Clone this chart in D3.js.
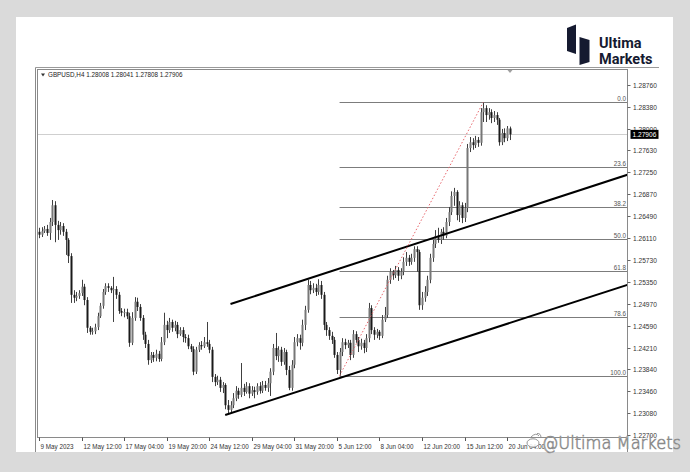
<!DOCTYPE html>
<html><head><meta charset="utf-8">
<script src="https://cdn.jsdelivr.net/npm/d3@7"></script>
<style>
html,body{margin:0;padding:0;background:#dadada;}
svg{display:block;}
</style></head><body>
<svg id="c" width="690" height="472"></svg>
<script>
// ---------------- data ----------------
const symbolInfo = "GBPUSD,H4";
const lastOHLC = [1.28008, 1.28041, 1.27808, 1.27906];
const currentPrice = 1.27906;

// H4 candles, 9 May 2023 -> 20 Jun 2023  [open, high, low, close]
const opens = [1.2622,1.2617,1.2623,1.2627,1.2620,1.2639,1.2668,1.2634,1.2625,1.2632,
1.2622,1.2608,1.2580,1.2513,1.2508,1.2511,1.2516,1.2527,1.2504,1.2456,
1.2449,1.2450,1.2457,1.2476,1.2494,1.2518,1.2528,1.2525,1.2521,1.2523,
1.2513,1.2485,1.2482,1.2483,1.2476,1.2430,1.2473,1.2501,1.2492,1.2473,
1.2444,1.2428,1.2400,1.2409,1.2404,1.2411,1.2402,1.2431,1.2461,1.2452,
1.2466,1.2456,1.2461,1.2445,1.2452,1.2440,1.2438,1.2424,1.2419,1.2380,
1.2418,1.2426,1.2424,1.2431,1.2428,1.2418,1.2371,1.2362,1.2366,1.2352,
1.2357,1.2322,1.2314,1.2322,1.2334,1.2347,1.2340,1.2352,1.2345,1.2355,
1.2342,1.2348,1.2345,1.2355,1.2347,1.2357,1.2352,1.2360,1.2380,1.2421,
1.2407,1.2418,1.2397,1.2414,1.2383,1.2352,1.2392,1.2431,1.2438,1.2430,
1.2461,1.2487,1.2530,1.2521,1.2525,1.2518,1.2530,1.2513,1.2461,1.2452,
1.2442,1.2435,1.2409,1.2383,1.2414,1.2431,1.2426,1.2430,1.2409,1.2445,
1.2435,1.2424,1.2430,1.2421,1.2438,1.2490,1.2452,1.2444,1.2449,1.2442,
1.2470,1.2478,1.2539,1.2553,1.2547,1.2556,1.2546,1.2553,1.2570,1.2577,
1.2570,1.2577,1.2592,1.2587,1.2495,1.2508,1.2518,1.2539,1.2577,1.2601,
1.2615,1.2608,1.2622,1.2615,1.2639,1.2656,1.2684,1.2691,1.2651,1.2668,
1.2646,1.2663,1.2767,1.2777,1.2772,1.2781,1.2776,1.2829,1.2836,1.2824,
1.2829,1.2819,1.2824,1.2816,1.2777,1.2793,1.2784,1.28008];
const highs = [1.2629,1.2630,1.2632,1.2634,1.2646,1.2677,1.2675,1.2641,1.2639,1.2637,
1.2627,1.2611,1.2585,1.2521,1.2518,1.2521,1.2539,1.2532,1.2509,1.2459,
1.2456,1.2463,1.2482,1.2499,1.2523,1.2533,1.2533,1.2528,1.2544,1.2528,
1.2518,1.2490,1.2489,1.2489,1.2482,1.2483,1.2509,1.2508,1.2497,1.2478,
1.2449,1.2435,1.2414,1.2414,1.2418,1.2416,1.2440,1.2482,1.2468,1.2473,
1.2470,1.2468,1.2466,1.2457,1.2457,1.2445,1.2444,1.2428,1.2424,1.2423,
1.2431,1.2433,1.2440,1.2466,1.2435,1.2423,1.2376,1.2373,1.2371,1.2362,
1.2360,1.2331,1.2329,1.2343,1.2355,1.2352,1.2395,1.2359,1.2362,1.2360,
1.2355,1.2354,1.2360,1.2362,1.2364,1.2364,1.2369,1.2386,1.2428,1.2447,
1.2424,1.2423,1.2421,1.2418,1.2390,1.2400,1.2440,1.2445,1.2444,1.2470,
1.2494,1.2539,1.2537,1.2533,1.2532,1.2540,1.2537,1.2518,1.2466,1.2457,
1.2449,1.2440,1.2414,1.2421,1.2438,1.2437,1.2435,1.2435,1.2452,1.2450,
1.2440,1.2437,1.2435,1.2445,1.2499,1.2495,1.2457,1.2454,1.2452,1.2478,
1.2492,1.2546,1.2559,1.2556,1.2563,1.2561,1.2559,1.2578,1.2587,1.2582,
1.2584,1.2597,1.2597,1.2591,1.2518,1.2528,1.2546,1.2584,1.2608,1.2625,
1.2629,1.2627,1.2630,1.2646,1.2665,1.2692,1.2698,1.2694,1.2675,1.2673,
1.2672,1.2774,1.2786,1.2784,1.2788,1.2786,1.2836,1.2846,1.2841,1.2836,
1.2834,1.2831,1.2829,1.2819,1.2800,1.2801,1.2805,1.28041];
const lows = [1.2611,1.2613,1.2620,1.2615,1.2608,1.2632,1.2604,1.2608,1.2617,1.2615,
1.2582,1.2568,1.2499,1.2499,1.2502,1.2506,1.2511,1.2495,1.2447,1.2444,
1.2444,1.2445,1.2452,1.2473,1.2489,1.2513,1.2518,1.2516,1.2466,1.2506,
1.2480,1.2476,1.2474,1.2471,1.2423,1.2426,1.2468,1.2485,1.2468,1.2435,
1.2421,1.2392,1.2395,1.2397,1.2398,1.2397,1.2398,1.2426,1.2438,1.2447,
1.2449,1.2450,1.2438,1.2442,1.2431,1.2430,1.2419,1.2414,1.2374,1.2376,
1.2414,1.2418,1.2421,1.2423,1.2412,1.2362,1.2355,1.2357,1.2345,1.2343,
1.2315,1.2307,1.2309,1.2317,1.2329,1.2333,1.2336,1.2338,1.2342,1.2334,
1.2338,1.2334,1.2340,1.2342,1.2343,1.2347,1.2345,1.2338,1.2374,1.2400,
1.2397,1.2390,1.2392,1.2374,1.2348,1.2347,1.2386,1.2424,1.2418,1.2424,
1.2452,1.2482,1.2514,1.2516,1.2511,1.2513,1.2506,1.2452,1.2442,1.2435,
1.2428,1.2404,1.2376,1.2373,1.2407,1.2419,1.2421,1.2400,1.2404,1.2430,
1.2414,1.2418,1.2412,1.2414,1.2431,1.2445,1.2435,1.2438,1.2435,1.2438,
1.2466,1.2473,1.2532,1.2539,1.2542,1.2537,1.2540,1.2547,1.2563,1.2563,
1.2565,1.2570,1.2553,1.2487,1.2487,1.2501,1.2511,1.2533,1.2570,1.2594,
1.2603,1.2601,1.2608,1.2611,1.2632,1.2651,1.2667,1.2642,1.2639,1.2637,
1.2639,1.2656,1.2760,1.2764,1.2767,1.2769,1.2771,1.2812,1.2812,1.2816,
1.2810,1.2812,1.2807,1.2771,1.2772,1.2777,1.2779,1.27808];
const closes = [1.2617,1.2623,1.2627,1.2620,1.2639,1.2668,1.2634,1.2625,1.2632,1.2622,
1.2608,1.2580,1.2513,1.2508,1.2511,1.2516,1.2527,1.2504,1.2456,1.2449,
1.2450,1.2457,1.2476,1.2494,1.2518,1.2528,1.2525,1.2521,1.2523,1.2513,
1.2485,1.2482,1.2483,1.2476,1.2430,1.2473,1.2501,1.2492,1.2473,1.2444,
1.2428,1.2400,1.2409,1.2404,1.2411,1.2402,1.2431,1.2461,1.2452,1.2466,
1.2456,1.2461,1.2445,1.2452,1.2440,1.2438,1.2424,1.2419,1.2380,1.2418,
1.2426,1.2424,1.2431,1.2428,1.2418,1.2371,1.2362,1.2366,1.2352,1.2357,
1.2322,1.2314,1.2322,1.2334,1.2347,1.2340,1.2352,1.2345,1.2355,1.2342,
1.2348,1.2345,1.2355,1.2347,1.2357,1.2352,1.2360,1.2380,1.2421,1.2407,
1.2418,1.2397,1.2414,1.2383,1.2352,1.2392,1.2431,1.2438,1.2430,1.2461,
1.2487,1.2530,1.2521,1.2525,1.2518,1.2530,1.2513,1.2461,1.2452,1.2442,
1.2435,1.2409,1.2383,1.2414,1.2431,1.2426,1.2430,1.2409,1.2445,1.2435,
1.2424,1.2430,1.2421,1.2438,1.2490,1.2452,1.2444,1.2449,1.2442,1.2470,
1.2478,1.2539,1.2553,1.2547,1.2556,1.2546,1.2553,1.2570,1.2577,1.2570,
1.2577,1.2592,1.2587,1.2495,1.2508,1.2518,1.2539,1.2577,1.2601,1.2615,
1.2608,1.2622,1.2615,1.2639,1.2656,1.2684,1.2691,1.2651,1.2668,1.2646,
1.2663,1.2767,1.2777,1.2772,1.2781,1.2776,1.2829,1.2836,1.2824,1.2829,
1.2819,1.2824,1.2816,1.2777,1.2793,1.2784,1.28008,1.27906];

const timeLabels = ["9 May 2023","12 May 12:00","17 May 04:00","19 May 20:00","24 May 12:00",
  "29 May 04:00","31 May 20:00","5 Jun 12:00","8 Jun 04:00","12 Jun 20:00","15 Jun 12:00","20 Jun 04:00"];
const timeLabelBars = [0,16,32,48,64,80,96,112,128,144,160,176];
const priceTicks = ["1.28760","1.28380","1.28000","1.27630","1.27250","1.26870","1.26490","1.26110",
  "1.25730","1.25350","1.24970","1.24590","1.24210","1.23840","1.23460","1.23080","1.22700"];

const fibLevels = [0, 23.6, 38.2, 50, 61.8, 78.6, 100];
const fibLabels = ["0.0","23.6","38.2","50.0","61.8","78.6","100.0"];
const fibLow = [113, 1.2373];   // [bar, price]
const fibHigh = [167, 1.2846];
const upperTrend = [[72, 1.2497], [160, 1.2629]];
const lowerTrend = [[70, 1.2305], [160, 1.2439]];

// ---------------- layout ----------------
const svg = d3.select("#c");
const plot = {left: 37.5, right: 627.5, top: 69.5, bottom: 437.5};
const x = d3.scaleLinear().domain([0, 177]).range([39, 509.8]);
const y = d3.scaleLinear().domain([1.22670, 1.29037]).range([437, 69]);
const FONT = "'Liberation Sans', Arial, sans-serif";

// white panel
svg.append("rect").attr("x",16).attr("y",17).attr("width",657).attr("height",435).attr("fill","#ffffff");

// logo
const logo = svg.append("g");
logo.append("path").attr("d","M567,28 L576,24.5 L576,54 L567,51 Z").attr("fill","#151a30");
logo.append("path").attr("d","M579.5,37 L589.5,40 L589.5,62 L579.5,65 Z").attr("fill","#151a30");
logo.append("text").attr("x",599).attr("y",47.5).text("Ultima")
  .attr("font-family","Roboto, sans-serif").attr("font-weight",700).attr("font-size",14.5).attr("fill","#151a30");
logo.append("text").attr("x",599).attr("y",63.5).text("Markets")
  .attr("font-family","Roboto, sans-serif").attr("font-weight",700).attr("font-size",14.5).attr("fill","#151a30");

// window frame
svg.append("line").attr("x1",35.5).attr("x2",659).attr("y1",67.5).attr("y2",67.5).attr("stroke","#9a9a9a");
svg.append("line").attr("x1",35.5).attr("x2",35.5).attr("y1",67.5).attr("y2",452).attr("stroke","#8a8a8a");
svg.append("rect").attr("x",plot.left).attr("y",plot.top)
  .attr("width",plot.right-plot.left).attr("height",plot.bottom-plot.top)
  .attr("fill","none").attr("stroke","#8a8a8a").attr("stroke-width",1);
svg.append("line").attr("x1",plot.right).attr("x2",plot.right).attr("y1",plot.bottom).attr("y2",452).attr("stroke","#8a8a8a");

// clip
svg.append("clipPath").attr("id","pc").append("rect")
  .attr("x",plot.left+0.5).attr("y",plot.top+0.5).attr("width",plot.right-plot.left-1).attr("height",plot.bottom-plot.top-1);
const g = svg.append("g").attr("clip-path","url(#pc)");

// current price line
g.append("line").attr("x1",plot.left).attr("x2",plot.right)
  .attr("y1",Math.round(y(currentPrice))+0.5).attr("y2",Math.round(y(currentPrice))+0.5)
  .attr("stroke","#cfcfcf").attr("stroke-width",1);

// fibonacci levels
const fibPrice = l => fibHigh[1] - (fibHigh[1]-fibLow[1]) * l / 100;
fibLevels.forEach((l,k) => {
  const yy = Math.round(y(fibPrice(l))) + 0.5;
  g.append("line").attr("x1",x(fibLow[0])).attr("x2",plot.right).attr("y1",yy).attr("y2",yy)
    .attr("stroke","#7c7c7c").attr("stroke-width",1);
  g.append("text").attr("x",626).attr("y",yy-1.5).attr("text-anchor","end").text(fibLabels[k])
    .attr("font-family",FONT).attr("font-size",6.3).attr("fill","#555");
});

// candles
const n = closes.length;
const idx = d3.range(n);
g.append("g").selectAll("line").data(idx).join("line")
  .attr("x1",i=>Math.round(x(i))+0.5).attr("x2",i=>Math.round(x(i))+0.5)
  .attr("y1",i=>y(highs[i])).attr("y2",i=>y(lows[i]))
  .attr("stroke","#404040").attr("stroke-width",1);
g.append("g").selectAll("rect").data(idx).join("rect")
  .attr("x",i=>Math.round(x(i))-0.5).attr("width",2)
  .attr("y",i=>y(Math.max(opens[i],closes[i])))
  .attr("height",i=>Math.max(1, Math.abs(y(opens[i])-y(closes[i]))))
  .attr("fill",i=>closes[i]>=opens[i] ? "#777" : "#1a1a1a");

// trend lines (rays to the right edge)
function ray(pts){
  const [[b1,p1],[b2,p2]] = pts;
  const slope = (p2-p1)/(b2-b1);
  const bEnd = x.invert(plot.right);
  return [[x(b1), y(p1)], [plot.right, y(p1 + slope*(bEnd-b1))]];
}
[upperTrend, lowerTrend].forEach(t => {
  const r = ray(t);
  g.append("line").attr("x1",r[0][0]).attr("y1",r[0][1]).attr("x2",r[1][0]).attr("y2",r[1][1])
    .attr("stroke","#000").attr("stroke-width",2);
});

// fibonacci anchor dotted line
g.append("line").attr("x1",x(fibLow[0])).attr("y1",y(fibLow[1])).attr("x2",x(fibHigh[0])).attr("y2",y(fibHigh[1]))
  .attr("stroke","#e8686e").attr("stroke-width",1).attr("stroke-dasharray","1.5,2");

// legend
svg.append("path").attr("d","M41,73.5 L45,73.5 L43,76.5 Z").attr("fill","#333");
svg.append("text").attr("x",48).attr("y",77).attr("font-family",FONT).attr("font-size",6.3).attr("fill","#222")
  .text(symbolInfo + "  " + lastOHLC.map(v=>v.toFixed(5)).join(" "));

// chart shift marker
svg.append("path").attr("d","M507.5,70 L512.5,70 L510,73 Z").attr("fill","#a0a0a0");

// price axis
const pa = svg.append("g");
priceTicks.forEach(t => {
  const yy = Math.round(y(+t)) + 0.5;
  pa.append("line").attr("x1",plot.right).attr("x2",plot.right+3).attr("y1",yy).attr("y2",yy).attr("stroke","#666");
  pa.append("text").attr("x",633).attr("y",yy).attr("dy","0.35em").text(t)
    .attr("font-family",FONT).attr("font-size",6.6).attr("fill","#333");
});
// current price tag
const cy = y(currentPrice);
pa.append("rect").attr("x",630.5).attr("y",cy-4.5).attr("width",28).attr("height",9).attr("fill","#000");
pa.append("text").attr("x",632.5).attr("y",cy).attr("dy","0.35em").text(currentPrice.toFixed(5))
  .attr("font-family",FONT).attr("font-size",6.6).attr("fill","#fff");

// time axis
const ta = svg.append("g");
timeLabelBars.forEach((b,k) => {
  const xx = Math.round(x(b)) + 0.5;
  ta.append("line").attr("x1",xx).attr("x2",xx).attr("y1",plot.bottom).attr("y2",plot.bottom+3.5).attr("stroke","#555");
  ta.append("text").attr("x",xx+1).attr("y",448.5).text(timeLabels[k])
    .attr("font-family",FONT).attr("font-size",6.3).attr("fill","#333");
});

// watermark
const wm = svg.append("g");
wm.append("ellipse").attr("cx",533).attr("cy",443).attr("rx",6).attr("ry",4.2)
  .attr("fill","#fff").attr("fill-opacity",0.85).attr("stroke","#8a8a8a").attr("stroke-width",0.9);
wm.append("path").attr("d","M531,437 Q536,432 539,436 M537,433.5 Q541,433 541,438")
  .attr("fill","none").attr("stroke","#8a8a8a").attr("stroke-width",0.9);
wm.append("text").attr("x",542).attr("y",448.5).text("@Ultima Markets")
  .attr("font-family","'DejaVu Sans', sans-serif").attr("font-size",17).attr("font-weight",300)
  .attr("textLength",139).attr("lengthAdjust","spacingAndGlyphs")
  .attr("fill","#fff").attr("fill-opacity",0.85).attr("stroke","#8a8a8a").attr("stroke-width",0.7);
</script>
</body></html>
